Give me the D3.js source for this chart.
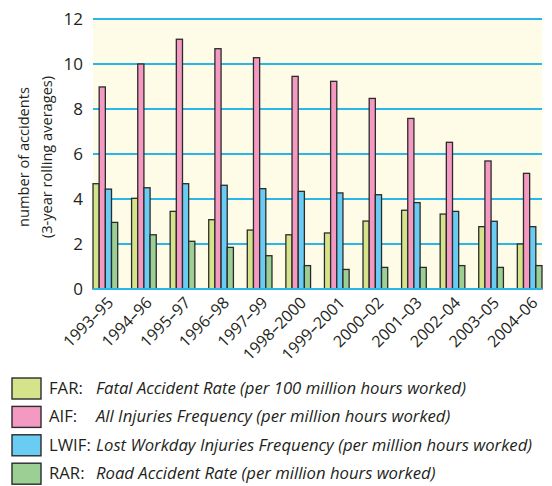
<!DOCTYPE html>
<html>
<head>
<meta charset="utf-8">
<script src="https://cdn.jsdelivr.net/npm/d3@7/dist/d3.min.js"></script>
<style>
    body{ margin:0; background:#fff; }
    text{ font-family:"Open Sans","Noto Sans",sans-serif; fill:#231f20; }
    .grid line{ stroke:#29b6e8; stroke-width:2px; }
    .bar{ stroke:#2b2b2b; stroke-width:1.3px; }
</style>
</head>
<body>
<div id="chart"></div>
<script>
var periods = ["1993–95","1994–96","1995–97","1996–98","1997–99","1998–2000","1999–2001","2000–02","2001–03","2002–04","2003–05","2004–06"];
var far  = [4.68, 4.03, 3.45, 3.08, 2.62, 2.41, 2.49, 3.02, 3.50, 3.33, 2.77, 2.00];
var aif  = [8.98, 10.0, 11.1, 10.68, 10.28, 9.45, 9.23, 8.47, 7.58, 6.52, 5.69, 5.14];
var lwif = [4.44, 4.50, 4.68, 4.61, 4.46, 4.34, 4.27, 4.19, 3.84, 3.45, 3.01, 2.77];
var rar  = [2.96, 2.41, 2.12, 1.85, 1.48, 1.04, 0.87, 0.96, 0.96, 1.04, 0.96, 1.04];
var yTicks = [0, 2, 4, 6, 8, 10, 12];

var seriesNames = ["FAR", "AIF", "LWIF", "RAR"];
var seriesLabels = ["Fatal Accident Rate (per 100 million hours worked)",
                    "All Injuries Frequency (per million hours worked)",
                    "Lost Workday Injuries Frequency (per million hours worked)",
                    "Road Accident Rate (per million hours worked)"];
var colors = ["#d5e38a", "#f49ac2", "#6accf3", "#9ccf94"];
var allSeries = [far, aif, lwif, rar];

var W = 552, H = 486;
var mLeft = 93, mRight = 542, mTop = 19, mBottom = 289;

var svg = d3.select("#chart").append("svg")
    .attr("width", W).attr("height", H);

var x = d3.scaleBand().domain(periods).range([mLeft, mRight]).paddingInner(0.36).paddingOuter(0);
var xs = d3.scaleBand().domain(seriesNames).range([0, x.bandwidth()]);
var y = d3.scaleLinear().domain([0, 12]).range([mBottom, mTop]);

// plot background
svg.append("rect")
    .attr("x", mLeft).attr("y", mTop)
    .attr("width", mRight - mLeft).attr("height", mBottom - mTop)
    .attr("fill", "#fefbe7");

// gridlines
svg.append("g").attr("class", "grid")
    .selectAll("line").data(yTicks).enter().append("line")
    .attr("x1", mLeft).attr("x2", mRight)
    .attr("y1", function(d){ return y(d); })
    .attr("y2", function(d){ return y(d); });

// bars
var groups = svg.append("g").selectAll("g").data(periods).enter().append("g")
    .attr("transform", function(d){ return "translate(" + x(d) + ",0)"; });

groups.selectAll("rect").data(function(d, i){
        return seriesNames.map(function(s, j){ return {s:s, j:j, v:allSeries[j][i]}; });
    }).enter().append("rect")
    .attr("class", "bar")
    .attr("x", function(d){ return xs(d.s); })
    .attr("width", xs.bandwidth())
    .attr("y", function(d){ return y(d.v); })
    .attr("height", function(d){ return y(0) - y(d.v); })
    .attr("fill", function(d){ return colors[d.j]; });

// baseline again on top
svg.append("line")
    .attr("x1", mLeft).attr("x2", mRight)
    .attr("y1", y(0)).attr("y2", y(0))
    .attr("stroke", "#29b6e8").attr("stroke-width", 2);

// y axis
var yAxis = d3.axisLeft(y).tickValues(yTicks).tickSize(0).tickPadding(10);
var yg = svg.append("g").attr("transform", "translate(" + mLeft + ",0)").call(yAxis);
yg.select(".domain").remove();
yg.selectAll("text").style("font-size", "17px").attr("fill", "#231f20");

// x axis
var xAxis = d3.axisBottom(x).tickSize(0).tickPadding(0);
var xg = svg.append("g").attr("transform", "translate(0," + (mBottom + 8) + ")").call(xAxis);
xg.select(".domain").remove();
xg.selectAll("text")
    .style("font-size", "16px")
    .attr("fill", "#231f20")
    .attr("text-anchor", "end")
    .attr("dy", "0.7em")
    .attr("dx", "0.1em")
    .attr("transform", "rotate(-45)");

// y label
var yl = svg.append("text")
    .attr("transform", "translate(29,157) rotate(-90)")
    .attr("text-anchor", "middle")
    .style("font-size", "14.6px");
yl.append("tspan").attr("x", 0).attr("dy", 0).text("number of accidents");
yl.append("tspan").attr("x", 0).attr("dy", 23).text("(3-year rolling averages)");

// legend
var lg = svg.append("g").selectAll("g").data(seriesNames).enter().append("g")
    .attr("transform", function(d, i){ return "translate(12," + (378 + i * 28.4) + ")"; });
lg.append("rect")
    .attr("width", 29).attr("height", 21)
    .attr("fill", function(d, i){ return colors[i]; })
    .attr("stroke", "#2b2b2b").attr("stroke-width", 1.4);
lg.append("text")
    .attr("x", 37).attr("y", 16)
    .style("font-size", "16.7px")
    .text(function(d){ return d + ":"; });
lg.append("text")
    .attr("x", 84)
    .attr("y", 16)
    .style("font-size", "16.7px")
    .style("font-style", "italic")
    .text(function(d, i){ return seriesLabels[i]; });
</script>
</body>
</html>
